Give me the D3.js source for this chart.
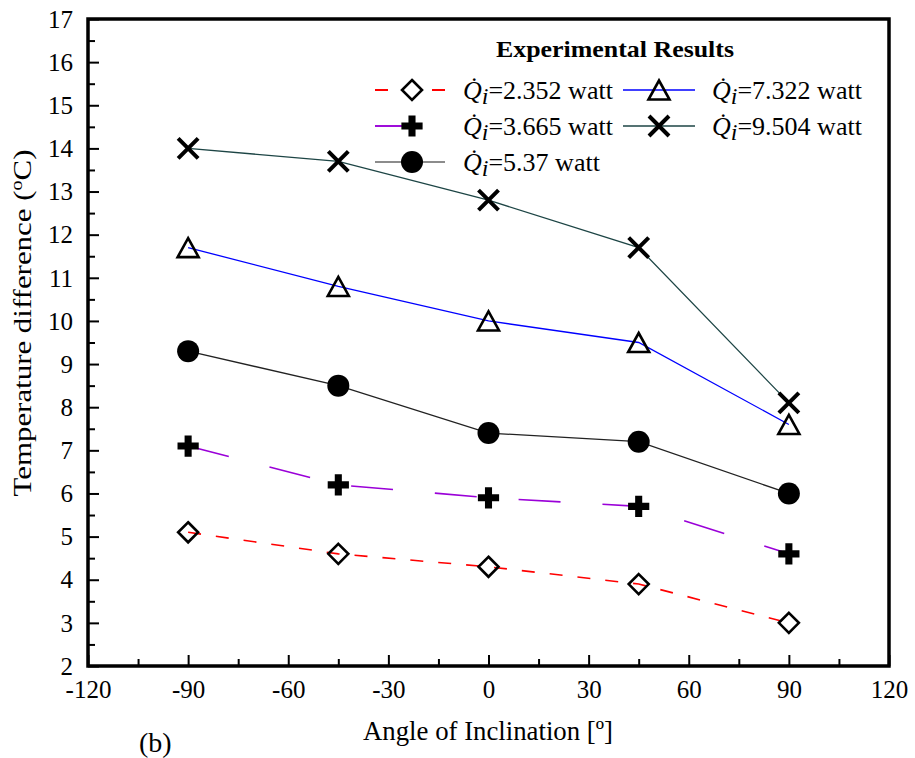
<!DOCTYPE html>
<html><head><meta charset="utf-8">
<script src="https://cdn.jsdelivr.net/npm/d3@7"></script>
<style>
body{margin:0;background:#fff;}
svg text{font-family:"Liberation Serif","Times New Roman",serif;fill:#000;}
</style></head>
<body><svg id="c" width="915" height="758"></svg>
<script>
// ---- data ----
const angles = [-90, -45, 0, 45, 90];
const q2352 = [5.1, 4.6, 4.3, 3.9, 3.0];
const q3665 = [7.1, 6.2, 5.9, 5.7, 4.6];
const q537  = [9.3, 8.5, 7.4, 7.2, 6.0];
const q7322 = [11.7, 10.8, 10.0, 9.5, 7.6];
const q9504 = [14.0, 13.7, 12.8, 11.7, 8.1];
const seriesLabels = ["2.352", "3.665", "5.37", "7.322", "9.504"];
const xTicks = [-120, -90, -60, -30, 0, 30, 60, 90, 120];
const yTicks = [2,3,4,5,6,7,8,9,10,11,12,13,14,15,16,17];

const FONT = "'Liberation Serif','Times New Roman',serif";
const svg = d3.select("#c");
const L = 88, R = 889, T = 19, B = 666;
const x = d3.scaleLinear().domain([-120, 120]).range([L, R]);
const y = d3.scaleLinear().domain([2, 17]).range([B, T]);

const series = [
  {vals:q2352, label:seriesLabels[0], color:"#ff0000", dash:"13,15", w:1.6, marker:"diamond"},
  {vals:q3665, label:seriesLabels[1], color:"#9a00d8", dash:"42,42", w:1.6, marker:"plus"},
  {vals:q537,  label:seriesLabels[2], color:"#222222", dash:null, w:1.3, marker:"circle"},
  {vals:q7322, label:seriesLabels[3], color:"#0000ff", dash:null, w:1.3, marker:"triangle"},
  {vals:q9504, label:seriesLabels[4], color:"#1d4545", dash:null, w:1.3, marker:"times"}
];
const fmt = d => String(d);

// ---- axes (inward ticks, bottom/left) ----
const gx = svg.append("g").attr("transform", `translate(0,${B})`)
  .call(d3.axisBottom(x).tickValues(xTicks).tickSizeInner(-11).tickSizeOuter(0).tickFormat(fmt))
  .attr("font-family", FONT).attr("font-size", 25);
gx.select(".domain").remove();
gx.selectAll("line").attr("stroke","#000").attr("stroke-width",2);
gx.selectAll("text").attr("dy",null).attr("y",32).attr("fill","#000")
  .style("font-family",FONT).style("font-size","25px");
const gxm = svg.append("g").attr("transform", `translate(0,${B})`)
  .call(d3.axisBottom(x).tickValues(d3.range(-105,120,30)).tickSizeInner(-7).tickSizeOuter(0).tickFormat(""));
gxm.select(".domain").remove();
gxm.selectAll("line").attr("stroke","#000").attr("stroke-width",2);

const gy = svg.append("g").attr("transform", `translate(${L},0)`)
  .call(d3.axisLeft(y).tickValues(yTicks).tickSizeInner(-11).tickSizeOuter(0).tickFormat(fmt))
  .attr("font-family", FONT).attr("font-size", 25);
gy.select(".domain").remove();
gy.selectAll("line").attr("stroke","#000").attr("stroke-width",2);
gy.selectAll("text").attr("x",-15).attr("dy","0.33em").attr("fill","#000")
  .style("font-family",FONT).style("font-size","25px");
const gym = svg.append("g").attr("transform", `translate(${L},0)`)
  .call(d3.axisLeft(y).tickValues(d3.range(2.5,17,1)).tickSizeInner(-7).tickSizeOuter(0).tickFormat(""));
gym.select(".domain").remove();
gym.selectAll("line").attr("stroke","#000").attr("stroke-width",2);

// frame
svg.append("rect").attr("x",L).attr("y",T).attr("width",R-L).attr("height",B-T)
  .attr("fill","none").attr("stroke","#000").attr("stroke-width",3.5);

// ---- marker drawing ----
function marker(g, type, cx, cy){
  if(type==="diamond"){
    const s=10;
    g.append("path").attr("d",`M${cx},${cy-s}L${cx+s},${cy}L${cx},${cy+s}L${cx-s},${cy}Z`)
      .attr("fill","none").attr("stroke","#000").attr("stroke-width",2.6);
  } else if(type==="plus"){
    g.append("path").attr("d", d3.symbol().type(d3.symbolCross).size(250)())
      .attr("transform",`translate(${cx},${cy})`).attr("fill","#000");
  } else if(type==="circle"){
    g.append("circle").attr("cx",cx).attr("cy",cy).attr("r",11).attr("fill","#000");
  } else if(type==="triangle"){
    const h=9.5, w=10.5;
    g.append("path").attr("d",`M${cx},${cy-h}L${cx+w},${cy+h}L${cx-w},${cy+h}Z`)
      .attr("fill","none").attr("stroke","#000").attr("stroke-width",2.6);
  } else if(type==="times"){
    const s=10;
    g.append("path").attr("d",`M${cx-s},${cy-s}L${cx+s},${cy+s}M${cx-s},${cy+s}L${cx+s},${cy-s}`)
      .attr("fill","none").attr("stroke","#000").attr("stroke-width",4);
  }
}

// ---- lines & markers ----
const line = d3.line().x((d,i)=>x(angles[i])).y(d=>y(d));
series.forEach(s=>{
  svg.append("path").datum(s.vals).attr("d",line).attr("fill","none")
    .attr("stroke",s.color).attr("stroke-width",s.w)
    .attr("stroke-dasharray",s.dash);
});
series.forEach(s=>{
  const g = svg.append("g");
  s.vals.forEach((v,i)=>marker(g, s.marker, x(angles[i]), y(v)));
});

// ---- legend ----
const lg = svg.append("g");
lg.append("text").attr("x",615).attr("y",57).attr("text-anchor","middle")
  .style("font-size","24px").style("font-weight","bold")
  .attr("textLength",238).attr("lengthAdjust","spacingAndGlyphs").text("Experimental Results");
const legPos = [
  {lx:375, mx:412, tx:463, ly:90},
  {lx:375, mx:412, tx:463, ly:126},
  {lx:375, mx:412, tx:463, ly:162},
  {lx:623, mx:659, tx:712, ly:90},
  {lx:623, mx:659, tx:712, ly:126}
];
series.forEach((s,i)=>{
  const p = legPos[i];
  const ls = lg.append("line").attr("x1",p.lx).attr("x2",p.lx+(i<3?70:72)).attr("y1",p.ly).attr("y2",p.ly)
    .attr("stroke", i===2 ? "#666" : s.color).attr("stroke-width",s.w+0.3);
  if(s.dash){
    if(i===0) ls.attr("stroke-dasharray","13,44,13");
    else ls.attr("stroke-dasharray","32,60");
  }
  marker(lg, s.marker, p.mx, p.ly);
  const t = lg.append("text").attr("x",p.tx).attr("y",p.ly+9).style("font-size","26px");
  t.append("tspan").style("font-style","italic").text("Q\u0307");
  t.append("tspan").style("font-style","italic").style("font-size","24px").attr("dy",5).text("i");
  t.append("tspan").attr("dy",-5).text("=" + s.label + " watt");
});

// ---- titles ----
svg.append("text").attr("x",488).attr("y",740).attr("text-anchor","middle")
  .style("font-size","28px").attr("textLength",250).attr("lengthAdjust","spacingAndGlyphs")
  .text("Angle of Inclination [º]");
svg.append("text").attr("x",139).attr("y",752).style("font-size","28px").text("(b)");
const yt = svg.append("text").attr("transform","translate(31,323) rotate(-90)")
  .attr("text-anchor","middle").style("font-size","26px")
  .attr("textLength",347).attr("lengthAdjust","spacingAndGlyphs");
yt.append("tspan").text("Temperature difference (");
yt.append("tspan").style("font-size","17px").attr("dy",-9).text("o");
yt.append("tspan").attr("dy",9).text("C)");
</script></body></html>
